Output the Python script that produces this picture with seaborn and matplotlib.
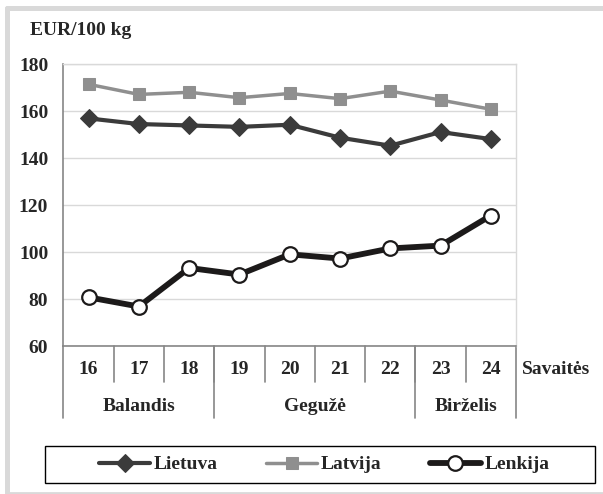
import numpy as np
import pandas as pd
import matplotlib.pyplot as plt
import matplotlib.patches as mpatches
from matplotlib.lines import Line2D
import seaborn as sns

# duomenys
savaites = ["16", "17", "18", "19", "20", "21", "22", "23", "24"]
lietuva = [157.0, 154.6, 154.0, 153.4, 154.3, 148.8, 145.4, 151.2, 148.2]
latvija = [171.5, 167.2, 168.1, 165.8, 167.6, 165.4, 168.6, 164.8, 160.9]
lenkija = [80.9, 77.0, 93.4, 90.6, 99.2, 97.4, 101.7, 102.9, 115.7]
menesiai = ["Balandis", "Gegužė", "Birželis"]
savaiciu_sk = [3, 4, 2]
y_ticks = [60, 80, 100, 120, 140, 160, 180]

sns.set_style("white")
plt.rcParams.update({
    "font.family": ["Liberation Serif", "DejaVu Serif"],
    "font.weight": "bold",
    "font.size": 14,
})

GRID = "#d9d9d9"
AXIS = "#868686"

df = pd.DataFrame({
    "savaite": savaites * 3,
    "kaina": lietuva + latvija + lenkija,
    "salis": ["Lietuva"] * 9 + ["Latvija"] * 9 + ["Lenkija"] * 9,
})

fig = plt.figure(figsize=(6.03, 4.94), dpi=100)
ax = fig.add_axes([0.1053, 0.2986, 0.7504, 0.5712])

stiliai = {
    "Lietuva": dict(color="#3b3b3b", lw=3.0, marker="D", ms=9.5,
                    mfc="#3b3b3b", mec="#3b3b3b", zorder=4),
    "Latvija": dict(color="#8f8f8f", lw=2.5, marker="s", ms=8,
                    mfc="#8f8f8f", mec="#8f8f8f", zorder=3),
    "Lenkija": dict(color="#1c1a1a", lw=4.2, marker="o", ms=10.5,
                    mfc="white", mec="#1c1a1a", mew=1.6, zorder=5),
}
for salis, st in stiliai.items():
    sns.lineplot(data=df[df["salis"] == salis], x="savaite", y="kaina",
                 ax=ax, label=salis, **st)

ax.set_xlim(-0.5, len(savaites) - 0.5)
ax.set_ylim(60, 180)
ax.set_yticks(y_ticks)
ax.set_yticklabels([str(v) for v in y_ticks], fontsize=14, fontweight="bold")
ax.set_xticks([])
ax.set_xlabel("")
ax.set_ylabel("")
ax.yaxis.grid(True, color=GRID, lw=1)
ax.set_axisbelow(True)
ax.tick_params(axis="y", direction="out", length=4, width=1, color=AXIS, pad=7)

for side, col in [("left", AXIS), ("bottom", AXIS), ("right", GRID), ("top", GRID)]:
    ax.spines[side].set_visible(True)
    ax.spines[side].set_color(col)
    ax.spines[side].set_linewidth(1.2 if col == AXIS else 1)

# kategorijų ašis: savaitės ir mėnesiai
trans = ax.get_xaxis_transform()
for i, s in enumerate(savaites):
    ax.text(i, -0.083, s, transform=trans, ha="center", va="center",
            fontsize=14, fontweight="bold")
for i in range(1, len(savaites)):
    ax.plot([i - 0.5, i - 0.5], [0, -0.126], transform=trans, color=AXIS,
            lw=1.2, clip_on=False)

ribos = np.concatenate([[0], np.cumsum(savaiciu_sk)]) - 0.5
for m, a, b in zip(menesiai, ribos[:-1], ribos[1:]):
    ax.text((a + b) / 2, -0.211, m, transform=trans, ha="center", va="center",
            fontsize=14, fontweight="bold")
for r in ribos:
    ax.plot([r, r], [0, -0.253], transform=trans, color=AXIS, lw=1.2, clip_on=False)

ax.text(1.013, -0.083, "Savaitės", transform=ax.transAxes, ha="left", va="center",
        fontsize=14, fontweight="bold")

fig.text(0.05, 0.939, "EUR/100 kg", ha="left", va="center", fontsize=14,
         fontweight="bold")

# legenda
handles, labels = ax.get_legend_handles_labels()
ax.get_legend().remove()
fig.legend(handles, labels, loc="center", bbox_to_anchor=(0.538, 0.0597),
           ncol=3, frameon=False, handlelength=2.6, handletextpad=0.2,
           columnspacing=2.5, prop={"size": 14, "weight": "bold"})
fig.add_artist(mpatches.Rectangle((0.0746, 0.0223), 0.912, 0.0749,
                                  transform=fig.transFigure, fill=False,
                                  edgecolor="black", lw=1.0))

# pilkas rėmelis
fig.add_artist(Line2D([0.0108, 1.0], [0.9828, 0.9828], transform=fig.transFigure,
                      color=GRID, lw=3.6))
fig.add_artist(Line2D([0.0108, 0.0108], [0.9828, 0.002], transform=fig.transFigure,
                      color=GRID, lw=3.6))
fig.add_artist(Line2D([0.0108, 1.0], [0.003, 0.003], transform=fig.transFigure,
                      color=GRID, lw=2))

fig.savefig("out.png", dpi=100)
